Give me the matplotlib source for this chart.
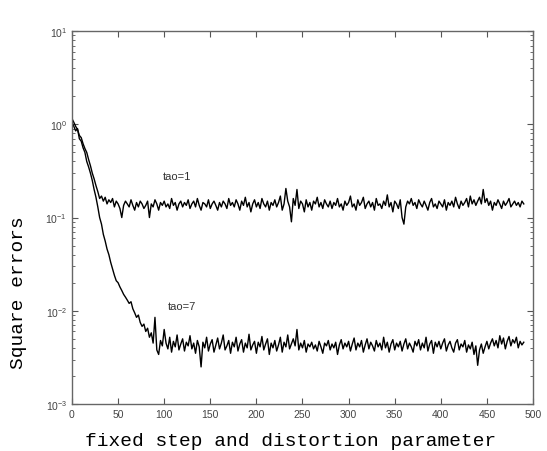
import numpy as np
import matplotlib
matplotlib.use('Agg')
import matplotlib.pyplot as plt
from matplotlib.ticker import LogLocator, FixedLocator

plt.rcParams['font.family'] = ['Liberation Sans', 'DejaVu Sans']
plt.rcParams['mathtext.default'] = 'regular'

# iteration index, every 2nd step
steps = list(range(0, 491, 2))

# square errors, tau = 1
err_tao1 = [
    1.15, 1.05, 0.95, 0.88, 0.76, 0.72, 0.62, 0.55, 0.50, 0.42,
    0.36, 0.30, 0.26, 0.22, 0.19, 0.16, 0.17, 0.15, 0.165, 0.14,
    0.155, 0.145, 0.16, 0.13, 0.15, 0.14, 0.125, 0.10, 0.135, 0.15,
    0.14, 0.13, 0.155, 0.135, 0.12, 0.145, 0.13, 0.15, 0.14, 0.125,
    0.135, 0.15, 0.10, 0.14, 0.13, 0.155, 0.14, 0.12, 0.145, 0.135,
    0.15, 0.13, 0.14, 0.125, 0.16, 0.135, 0.145, 0.12, 0.14, 0.15,
    0.13, 0.145, 0.135, 0.155, 0.125, 0.14, 0.15, 0.13, 0.16, 0.135,
    0.12, 0.145, 0.14, 0.13, 0.155, 0.125, 0.14, 0.15, 0.135, 0.12,
    0.145, 0.13, 0.15, 0.14, 0.125, 0.16, 0.135, 0.145, 0.13, 0.155,
    0.14, 0.12, 0.15, 0.135, 0.165, 0.13, 0.145, 0.115, 0.14, 0.155,
    0.13, 0.145, 0.125, 0.16, 0.14, 0.13, 0.15, 0.12, 0.145, 0.135,
    0.155, 0.13, 0.145, 0.17, 0.12, 0.14, 0.205, 0.15, 0.13, 0.09,
    0.16, 0.135, 0.20, 0.125, 0.15, 0.14, 0.115, 0.155, 0.13, 0.145,
    0.12, 0.15, 0.14, 0.165, 0.13, 0.145, 0.125, 0.155, 0.14, 0.13,
    0.15, 0.125, 0.145, 0.135, 0.16, 0.13, 0.14, 0.12, 0.15, 0.135,
    0.145, 0.17, 0.13, 0.14, 0.12, 0.155, 0.135, 0.145, 0.165, 0.125,
    0.14, 0.15, 0.13, 0.145, 0.12, 0.16, 0.135, 0.14, 0.125, 0.15,
    0.135, 0.175, 0.13, 0.145, 0.115, 0.15, 0.14, 0.125, 0.155, 0.10,
    0.085, 0.13, 0.15, 0.14, 0.16, 0.135, 0.145, 0.125, 0.155, 0.14,
    0.13, 0.15, 0.135, 0.12, 0.145, 0.16, 0.13, 0.14, 0.125, 0.15,
    0.14, 0.13, 0.155, 0.12, 0.145, 0.135, 0.15, 0.13, 0.165, 0.14,
    0.125, 0.15, 0.135, 0.145, 0.16, 0.13, 0.17, 0.14, 0.155, 0.135,
    0.15, 0.165, 0.14, 0.20, 0.145, 0.16, 0.135, 0.15, 0.12, 0.145,
    0.135, 0.155, 0.14, 0.125, 0.15, 0.135, 0.145, 0.16, 0.13, 0.14,
    0.15, 0.135, 0.145, 0.13, 0.15, 0.14,
]

# square errors, tau = 7
err_tao7 = [
    1.05, 0.95, 0.85, 0.90, 0.70, 0.66, 0.56, 0.50, 0.40, 0.35,
    0.30, 0.25, 0.20, 0.165, 0.13, 0.10, 0.085, 0.066, 0.056, 0.046,
    0.040, 0.033, 0.028, 0.024, 0.021, 0.020, 0.018, 0.0165, 0.015, 0.014,
    0.013, 0.012, 0.0125, 0.0105, 0.0095, 0.0085, 0.009, 0.0075, 0.0068, 0.0072,
    0.0060, 0.0065, 0.0052, 0.0058, 0.0045, 0.0085, 0.0038, 0.0034, 0.0048, 0.0042,
    0.0063, 0.0045, 0.0039, 0.0052, 0.0036, 0.0047, 0.0041, 0.0055, 0.0038, 0.0044,
    0.0050, 0.0037, 0.0046, 0.0042, 0.0054, 0.0039, 0.0045, 0.0035, 0.0048, 0.0041,
    0.0025, 0.0046, 0.0040, 0.0052, 0.0037, 0.0044, 0.0049, 0.0036, 0.0043, 0.0051,
    0.0039, 0.0045, 0.0055, 0.0038, 0.0042, 0.0048, 0.0035, 0.0046, 0.0041, 0.0052,
    0.0037, 0.0044, 0.0049, 0.0036, 0.0045, 0.0040, 0.0056, 0.0038, 0.0043, 0.0047,
    0.0035, 0.0046, 0.0041, 0.0053, 0.0038, 0.0044, 0.0050, 0.0034, 0.0045, 0.0040,
    0.0048, 0.0037, 0.0043, 0.0052, 0.0036, 0.0046, 0.0041, 0.0055, 0.0039, 0.0044,
    0.0050, 0.0042, 0.0063, 0.0038, 0.0045, 0.0040, 0.0048, 0.0036, 0.0044, 0.0041,
    0.0046, 0.0039, 0.0043, 0.0037, 0.0047, 0.0041, 0.0035, 0.0045, 0.0042, 0.0048,
    0.0038, 0.0044, 0.0040, 0.0046, 0.0034, 0.0043, 0.0049, 0.0039, 0.0045, 0.0041,
    0.0047, 0.0037, 0.0044, 0.0051, 0.0038, 0.0045, 0.0041, 0.0048, 0.0036, 0.0043,
    0.0050, 0.0039, 0.0046, 0.0042, 0.0037, 0.0048, 0.0041, 0.0045, 0.0038, 0.0052,
    0.0040, 0.0046, 0.0036, 0.0044, 0.0049, 0.0038, 0.0045, 0.0041, 0.0047, 0.0037,
    0.0044, 0.0050, 0.0039, 0.0045, 0.0041, 0.0036, 0.0047, 0.0042, 0.0049, 0.0038,
    0.0045, 0.0040, 0.0052, 0.0037, 0.0044, 0.0048, 0.0035, 0.0046, 0.0041, 0.0047,
    0.0039, 0.0045, 0.0050, 0.0037, 0.0043, 0.0047, 0.0040, 0.0036, 0.0045, 0.0049,
    0.0038, 0.0044, 0.0041, 0.0048, 0.0036, 0.0043, 0.0039, 0.0046, 0.0034, 0.0042,
    0.0026, 0.0038, 0.0044, 0.0035, 0.0041, 0.0047, 0.0039, 0.0045, 0.0050, 0.0042,
    0.0048, 0.0040, 0.0054, 0.0044, 0.0051, 0.0039, 0.0047, 0.0053, 0.0042, 0.0049,
    0.0045, 0.0052, 0.0040, 0.0047, 0.0043, 0.0046,
]

xticks = [0, 50, 100, 150, 200, 250, 300, 350, 400, 450, 500]

fig = plt.figure(figsize=(5.47, 4.52), dpi=100)
ax = fig.add_axes([0.1316, 0.104, 0.8428, 0.825])

ax.plot(steps, err_tao1, color='black', lw=1.0)
ax.plot(steps, err_tao7, color='black', lw=1.0)

ax.set_yscale('log')
ax.set_xlim(0, 500)
ax.set_ylim(1e-3, 1e1)
ax.xaxis.set_major_locator(FixedLocator(xticks))
ax.yaxis.set_major_locator(LogLocator(base=10, numticks=10))
ax.yaxis.set_minor_locator(LogLocator(base=10, subs=np.arange(2, 10), numticks=20))

ax.tick_params(which='both', direction='in', top=True, right=True,
               colors='#555555', labelcolor='#444444', labelsize=7.5)
ax.tick_params(which='major', length=4, width=0.8)
ax.tick_params(which='minor', length=2.5, width=0.6)
for sp in ax.spines.values():
    sp.set_color('#666666')
    sp.set_linewidth(1.0)

ax.text(99, 0.28, 'tao=1', fontsize=8, color='#333333', va='center')
ax.text(104, 0.0112, 'tao=7', fontsize=8, color='#333333', va='center')

ax.set_xlabel('fixed step and distortion parameter', family='Liberation Mono',
              fontsize=14, ha='center', va='center')
ax.xaxis.set_label_coords(0.474, -0.099)
ax.set_ylabel('Square errors', family='Liberation Mono', fontsize=14,
              ha='center', va='center')
ax.yaxis.set_label_coords(-0.117, 0.30)

fig.savefig('out.png', dpi=100)
